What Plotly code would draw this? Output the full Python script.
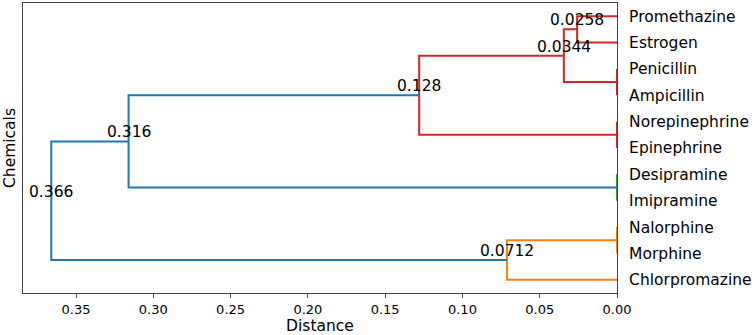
import plotly.graph_objects as go

# Leaves from bottom to top
leaves = ["Chlorpromazine", "Morphine", "Nalorphine", "Imipramine", "Desipramine",
          "Epinephrine", "Norepinephrine", "Ampicillin", "Penicillin", "Estrogen",
          "Promethazine"]

# Linkage: merge k joins merge_a[k] and merge_b[k] at merge_dist[k]; result is "m{k}"
merge_a = ["Nalorphine", "m0", "Desipramine", "Norepinephrine", "Penicillin",
           "Promethazine", "m5", "m6", "m7", "m8"]
merge_b = ["Morphine", "Chlorpromazine", "Imipramine", "Epinephrine", "Ampicillin",
           "Estrogen", "m4", "m3", "m2", "m1"]
merge_dist = [0.0, 0.0712, 0.0, 0.0, 0.0, 0.0258, 0.0344, 0.128, 0.316, 0.366]
merge_color = ["#ff7f0e", "#ff7f0e", "#2ca02c", "#d62728", "#d62728", "#d62728",
               "#d62728", "#d62728", "#1f77b4", "#1f77b4"]

x_ticks = [0.35, 0.30, 0.25, 0.20, 0.15, 0.10, 0.05, 0.00]

FONT = "DejaVu Sans"
SPINE = "#444444"

pos = {name: (0.0, 5 + 10 * i) for i, name in enumerate(leaves)}
fig = go.Figure()
annotations = []
for k, (a, b, d, c) in enumerate(zip(merge_a, merge_b, merge_dist, merge_color)):
    xa, ya = pos[a]
    xb, yb = pos[b]
    fig.add_trace(go.Scatter(
        x=[xa, d, d, xb], y=[ya, ya, yb, yb], mode="lines",
        line=dict(color=c, width=2), cliponaxis=False,
        hoverinfo="skip", showlegend=False))
    ym = (ya + yb) / 2
    pos[f"m{k}"] = (d, ym)
    if d > 0:
        annotations.append(dict(
            x=d, y=ym, xref="x", yref="y", text=f"{d:.3g}", showarrow=False,
            xanchor="center", yanchor="bottom", yshift=-2,
            font=dict(family=FONT, size=15.5, color="#000000")))

annotations.append(dict(
    x=0, y=0.5, xref="paper", yref="paper", text="Chemicals",
    showarrow=False, textangle=-90, xanchor="center", yanchor="middle",
    xshift=-13, font=dict(family=FONT, size=15.5, color="#000000")))

max_d = max(merge_dist)
fig.update_layout(
    width=755, height=335,
    margin=dict(l=23, r=138, t=3, b=42),
    plot_bgcolor="white", paper_bgcolor="white",
    annotations=annotations,
    xaxis=dict(
        range=[max_d * 1.05, 0], tickvals=x_ticks,
        ticktext=[f"{v:.2f}" for v in x_ticks],
        ticks="outside", ticklen=4, tickwidth=1, tickcolor=SPINE,
        showline=True, linecolor=SPINE, linewidth=1, mirror=True,
        showgrid=False, zeroline=False,
        tickfont=dict(family=FONT, size=13, color="#000000"),
        title=dict(text="Distance", standoff=4,
                   font=dict(family=FONT, size=15.5, color="#000000")),
    ),
    yaxis=dict(
        range=[0, 10 * len(leaves)], side="right",
        tickvals=[5 + 10 * i for i in range(len(leaves))], ticktext=leaves,
        ticks="", ticklabelstandoff=8,
        showline=True, linecolor=SPINE, linewidth=1, mirror=True,
        showgrid=False, zeroline=False,
        tickfont=dict(family=FONT, size=15.5, color="#000000"),
    ),
)

fig.write_html("out.html", config={"displayModeBar": False},
               post_script="document.body.style.margin='0';document.body.style.overflow='hidden';")
